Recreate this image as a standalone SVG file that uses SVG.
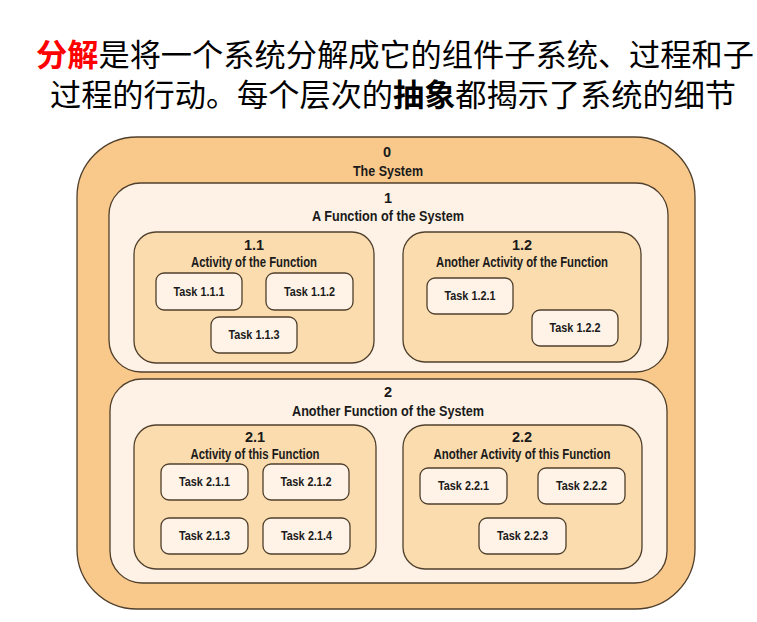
<svg xmlns="http://www.w3.org/2000/svg" width="757" height="622" viewBox="0 0 757 622">
<style>
.title{font-family:"Noto Sans CJK SC","Noto Sans",sans-serif;font-size:31px;fill:#000}
.b{font-weight:bold}
.red{fill:#ff0000}
.lbl{font-family:"Liberation Sans",Arial,sans-serif;font-weight:bold;font-size:14.5px;fill:#1a1a1a;text-anchor:middle;dominant-baseline:central}
.tk{font-family:"Liberation Sans",Arial,sans-serif;font-weight:bold;font-size:12.5px;fill:#1a1a1a;text-anchor:middle;dominant-baseline:central}
.l0{fill:#f8c98b;stroke:#4f3f2c;stroke-width:1.3}
.l1{fill:#fdf2e5;stroke:#4f3f2c;stroke-width:1.3}
.l2{fill:#fbdcae;stroke:#4f3f2c;stroke-width:1.3}
.l3{fill:#fef3e6;stroke:#4f3f2c;stroke-width:1.3}
</style>
<rect width="757" height="622" fill="#ffffff"/>
<g id="title">
<text class="title" x="395" y="66" text-anchor="middle" textLength="718" lengthAdjust="spacingAndGlyphs"><tspan class="b red">分解</tspan>是将一个系统分解成它的组件子系统、过程和子</text>
<text class="title" x="393" y="106" text-anchor="middle" textLength="686" lengthAdjust="spacingAndGlyphs">过程的行动。每个层次的<tspan class="b">抽象</tspan>都揭示了系统的细节</text>
</g>
<g id="n0">
<rect class="l0" x="77" y="137" width="618" height="472" rx="60" ry="60"/>
<text class="lbl" x="387" y="152">0</text>
<text class="lbl" x="388" y="171" textLength="70" lengthAdjust="spacingAndGlyphs">The System</text>
</g>
<g id="n1">
<rect class="l1" x="109" y="183" width="559" height="189" rx="32" ry="32"/>
<text class="lbl" x="388" y="198">1</text>
<text class="lbl" x="388" y="216" textLength="152" lengthAdjust="spacingAndGlyphs">A Function of the System</text>
</g>
<g id="n1_1">
<rect class="l2" x="134" y="232" width="240" height="131" rx="22" ry="22"/>
<text class="lbl" x="254" y="245">1.1</text>
<text class="lbl" x="254" y="262" textLength="126" lengthAdjust="spacingAndGlyphs">Activity of the Function</text>
</g>
<g id="t1_1_1"><rect class="l3" x="156" y="273" width="86" height="37" rx="8"/><text class="tk" x="199" y="292" textLength="51" lengthAdjust="spacingAndGlyphs">Task 1.1.1</text></g>
<g id="t1_1_2"><rect class="l3" x="266" y="273" width="87" height="37" rx="8"/><text class="tk" x="309.5" y="292" textLength="51" lengthAdjust="spacingAndGlyphs">Task 1.1.2</text></g>
<g id="t1_1_3"><rect class="l3" x="211" y="317" width="86" height="36" rx="8"/><text class="tk" x="254" y="335" textLength="51" lengthAdjust="spacingAndGlyphs">Task 1.1.3</text></g>
<g id="n1_2">
<rect class="l2" x="403" y="232" width="238" height="130" rx="22" ry="22"/>
<text class="lbl" x="522" y="245">1.2</text>
<text class="lbl" x="522" y="262" textLength="172" lengthAdjust="spacingAndGlyphs">Another Activity of the Function</text>
</g>
<g id="t1_2_1"><rect class="l3" x="427" y="278" width="86" height="36" rx="8"/><text class="tk" x="470" y="296" textLength="51" lengthAdjust="spacingAndGlyphs">Task 1.2.1</text></g>
<g id="t1_2_2"><rect class="l3" x="532" y="310" width="86" height="36" rx="8"/><text class="tk" x="575" y="328" textLength="51" lengthAdjust="spacingAndGlyphs">Task 1.2.2</text></g>
<g id="n2">
<rect class="l1" x="110" y="379" width="557" height="204" rx="32" ry="32"/>
<text class="lbl" x="388" y="392">2</text>
<text class="lbl" x="388" y="411" textLength="192" lengthAdjust="spacingAndGlyphs">Another Function of the System</text>
</g>
<g id="n2_1">
<rect class="l2" x="134" y="425" width="242" height="144" rx="22" ry="22"/>
<text class="lbl" x="255" y="437">2.1</text>
<text class="lbl" x="255" y="454" textLength="129" lengthAdjust="spacingAndGlyphs">Activity of this Function</text>
</g>
<g id="t2_1_1"><rect class="l3" x="161" y="464" width="87" height="36" rx="8"/><text class="tk" x="204.5" y="482" textLength="51" lengthAdjust="spacingAndGlyphs">Task 2.1.1</text></g>
<g id="t2_1_2"><rect class="l3" x="263" y="464" width="86" height="36" rx="8"/><text class="tk" x="306" y="482" textLength="51" lengthAdjust="spacingAndGlyphs">Task 2.1.2</text></g>
<g id="t2_1_3"><rect class="l3" x="161" y="518" width="87" height="36" rx="8"/><text class="tk" x="204.5" y="536" textLength="51" lengthAdjust="spacingAndGlyphs">Task 2.1.3</text></g>
<g id="t2_1_4"><rect class="l3" x="263" y="518" width="87" height="36" rx="8"/><text class="tk" x="306.5" y="536" textLength="51" lengthAdjust="spacingAndGlyphs">Task 2.1.4</text></g>
<g id="n2_2">
<rect class="l2" x="403" y="425" width="239" height="144" rx="22" ry="22"/>
<text class="lbl" x="522" y="437">2.2</text>
<text class="lbl" x="522" y="454" textLength="177" lengthAdjust="spacingAndGlyphs">Another Activity of this Function</text>
</g>
<g id="t2_2_1"><rect class="l3" x="420" y="468" width="87" height="36" rx="8"/><text class="tk" x="463.5" y="486" textLength="51" lengthAdjust="spacingAndGlyphs">Task 2.2.1</text></g>
<g id="t2_2_2"><rect class="l3" x="538" y="468" width="87" height="36" rx="8"/><text class="tk" x="581.5" y="486" textLength="51" lengthAdjust="spacingAndGlyphs">Task 2.2.2</text></g>
<g id="t2_2_3"><rect class="l3" x="479" y="518" width="87" height="36" rx="8"/><text class="tk" x="522.5" y="536" textLength="51" lengthAdjust="spacingAndGlyphs">Task 2.2.3</text></g>
<g id="connectors"></g>
</svg>
